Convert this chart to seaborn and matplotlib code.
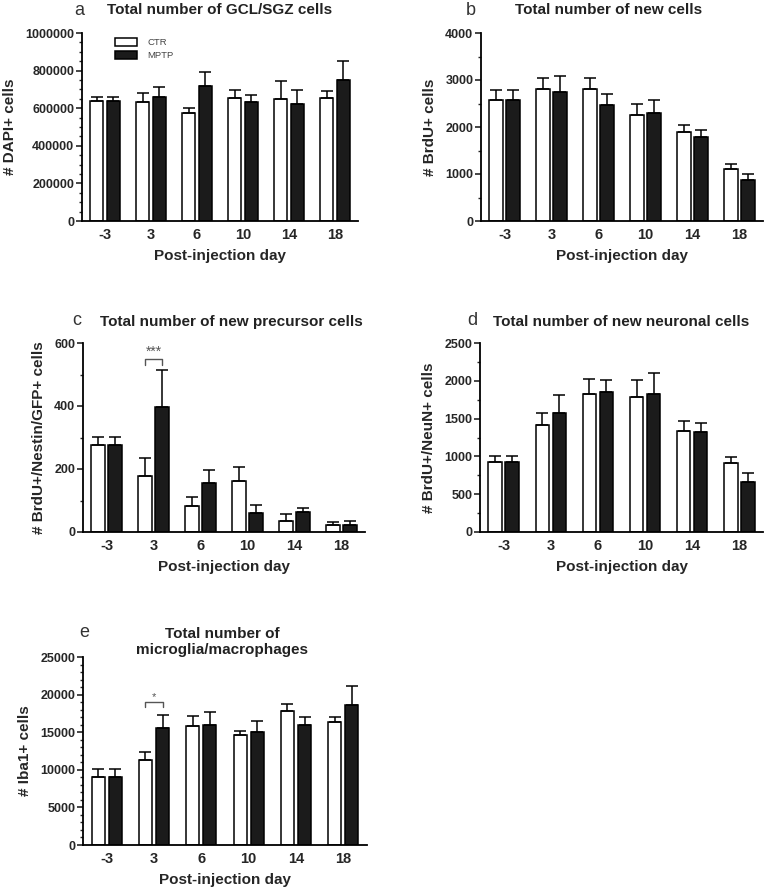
import matplotlib
matplotlib.use("Agg")
import matplotlib.pyplot as plt
import numpy as np
import pandas as pd
import seaborn as sns
from matplotlib.ticker import MultipleLocator

DAYS = ["-3", "3", "6", "10", "14", "18"]
GROUPS = ["CTR", "MPTP"]

# a: DAPI+ cells (mean, upper SEM)
a_ctr = [640000, 635000, 573000, 653000, 649000, 653000]
a_ctr_err = [22000, 48000, 27000, 44000, 96000, 36000]
a_mptp = [640000, 657000, 719000, 632000, 621000, 751000]
a_mptp_err = [22000, 58000, 71000, 39000, 76000, 101000]

# b: BrdU+ cells
b_ctr = [2577, 2818, 2804, 2256, 1893, 1096]
b_ctr_err = [213, 214, 249, 228, 143, 114]
b_mptp = [2577, 2747, 2470, 2292, 1794, 868]
b_mptp_err = [213, 335, 228, 285, 142, 128]

# c: BrdU+/Nestin/GFP+ cells
c_ctr = [275, 179, 82, 161, 34, 21]
c_ctr_err = [27, 55, 29, 46, 22, 11]
c_mptp = [275, 398, 157, 60, 62, 21]
c_mptp_err = [27, 117, 39, 25, 14, 13]

# d: BrdU+/NeuN+ cells
d_ctr = [929, 1420, 1832, 1792, 1341, 916]
d_ctr_err = [80, 151, 195, 221, 132, 80]
d_mptp = [929, 1575, 1854, 1832, 1323, 655]
d_mptp_err = [80, 239, 150, 274, 115, 128]

# e: Iba1+ cells
e_ctr = [9014, 11323, 15764, 14565, 17762, 16385]
e_ctr_err = [1110, 1022, 1421, 622, 977, 622]
e_mptp = [9014, 15586, 15986, 15009, 15986, 18606]
e_mptp_err = [1110, 1643, 1687, 1510, 1066, 2575]

sns.set_style("ticks")
plt.rcParams["font.family"] = ["Liberation Sans", "DejaVu Sans"]

fig = plt.figure(figsize=(7.66, 8.92), dpi=100)
W, H = 766, 892


def axes_px(left, top, right, bottom):
    return fig.add_axes([left / W, 1 - bottom / H, (right - left) / W, (bottom - top) / H])


def draw_panel(ax, ctr, ctr_err, mptp, mptp_err, ylabel, ymax, major, minor,
               title, title_pad, title_x=0.5, legend=False, sig=None, sig_size=8):
    df = pd.DataFrame({
        "day": DAYS * 2,
        "group": ["CTR"] * len(DAYS) + ["MPTP"] * len(DAYS),
        "value": list(ctr) + list(mptp),
    })
    sns.barplot(data=df, x="day", y="value", hue="group", order=DAYS,
                hue_order=GROUPS, palette={"CTR": "white", "MPTP": "#1b1b1b"},
                edgecolor="black", linewidth=1.1, width=0.72, gap=0.22,
                errorbar=None, legend=legend, ax=ax)
    # upper-only SEM bars on top of each bar
    for cont, errs in zip(ax.containers, [ctr_err, mptp_err]):
        xs = [b.get_x() + b.get_width() / 2 for b in cont]
        ys = [b.get_height() for b in cont]
        ax.errorbar(xs, ys, yerr=[np.zeros(len(errs)), errs], fmt="none",
                    ecolor="black", elinewidth=1.1, capsize=4.5, capthick=1.1,
                    zorder=1)
    ax.set_ylim(0, ymax)
    ax.set_xlim(-0.5, 5.5)
    ax.yaxis.set_major_locator(MultipleLocator(major))
    ax.yaxis.set_minor_locator(MultipleLocator(minor))
    ax.ticklabel_format(axis="y", style="plain", useOffset=False)
    ax.tick_params(axis="y", which="major", length=4, width=1.2, pad=1.5,
                   labelsize=9)
    ax.tick_params(axis="y", which="minor", length=2.5, width=1.0)
    ax.tick_params(axis="x", length=0, pad=5, labelsize=10.5)
    for lab in ax.get_xticklabels() + ax.get_yticklabels():
        lab.set_fontweight("bold")
    sns.despine(ax=ax)
    for s in ["left", "bottom"]:
        ax.spines[s].set_linewidth(1.3)
        ax.spines[s].set_color("black")
    ax.set_xlabel("Post-injection day", fontsize=11, fontweight="bold", labelpad=5)
    ax.set_ylabel(ylabel, fontsize=11, fontweight="bold", labelpad=6)
    ax.set_title(title, fontsize=11, fontweight="bold", pad=title_pad, x=title_x,
                 color="#222222")
    if legend:
        handles, labels = ax.get_legend_handles_labels()
        ax.legend(handles, labels, loc="upper left", bbox_to_anchor=(0.12, 0.975),
                  frameon=False, fontsize=6.8, handlelength=2.3, handleheight=0.9,
                  labelspacing=0.45, handletextpad=1.1, borderaxespad=0,
                  borderpad=0, labelcolor="#444444")
    if sig is not None:
        idx, top, low, mark = sig
        c0 = ax.containers[0][idx]
        c1 = ax.containers[1][idx]
        x0 = c0.get_x() + c0.get_width() / 2
        x1 = c1.get_x() + c1.get_width() / 2
        ax.plot([x0, x0, x1, x1], [low, top, top, low], color="#555555", lw=1.0)
        ax.text((x0 + x1) / 2, top, mark, ha="center", va="bottom",
                fontsize=sig_size, color="#555555")


ax_a = axes_px(82, 33, 358, 221)
draw_panel(ax_a, a_ctr, a_ctr_err, a_mptp, a_mptp_err, "# DAPI+ cells",
           1000000, 200000, 50000, "Total number of GCL/SGZ cells", 13.5,
           legend=True)

ax_b = axes_px(481, 33, 763, 221)
draw_panel(ax_b, b_ctr, b_ctr_err, b_mptp, b_mptp_err, "# BrdU+ cells",
           4000, 1000, 500, "Total number of new cells", 13.5, title_x=0.454)

ax_c = axes_px(83, 343, 365, 532)
draw_panel(ax_c, c_ctr, c_ctr_err, c_mptp, c_mptp_err,
           "# BrdU+/Nestin/GFP+ cells", 600, 200, 100,
           "Total number of new precursor cells", 12, title_x=0.525,
           sig=(1, 549, 531, "***"), sig_size=10)

ax_d = axes_px(480, 343, 763, 532)
draw_panel(ax_d, d_ctr, d_ctr_err, d_mptp, d_mptp_err, "# BrdU+/NeuN+ cells",
           2500, 500, 250, "Total number of new neuronal cells", 12)

ax_e = axes_px(83, 657, 367, 845)
draw_panel(ax_e, e_ctr, e_ctr_err, e_mptp, e_mptp_err, "# Iba1+ cells",
           25000, 5000, 1000, "Total number of\nmicroglia/macrophages", 0,
           title_x=0.49, sig=(1, 19050, 18340, "*"))

for letter, x, y in [("a", 79, 15), ("b", 471, 15), ("c", 77, 325),
                     ("d", 472, 325), ("e", 84, 637)]:
    fig.text(x / W, 1 - y / H, letter, fontsize=13, ha="center", va="baseline",
             color="#333333")

fig.savefig("out.png", dpi=100)
